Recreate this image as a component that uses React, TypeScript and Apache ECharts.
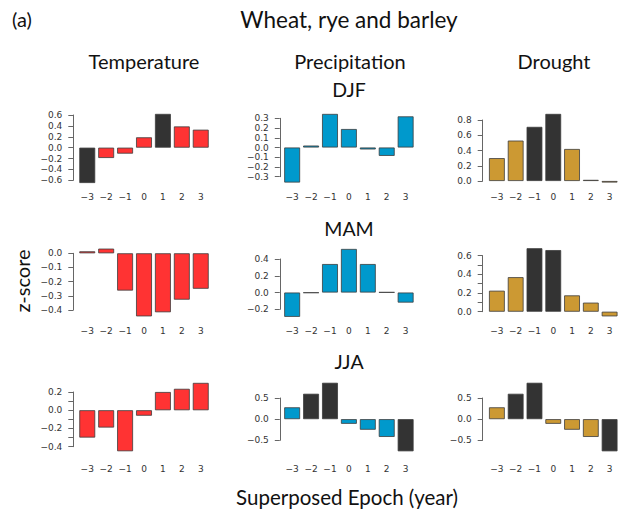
import React, { useEffect, useRef } from "react";
import * as echarts from "echarts";

// Superposed epoch lags (years)
const lags = ["\u22123", "\u22122", "\u22121", "0", "1", "2", "3"];

// z-score values
const tempDJF = [-0.65, -0.19, -0.11, 0.19, 0.62, 0.39, 0.33];
const precDJF = [-0.36, 0.02, 0.345, 0.19, -0.02, -0.086, 0.32];
const drouDJF = [0.3, 0.53, 0.71, 0.88, 0.42, 0.015, -0.02];

const tempMAM = [0.014, 0.033, -0.263, -0.445, -0.416, -0.327, -0.25];
const precMAM = [-0.29, -0.004, 0.34, 0.52, 0.34, 0.004, -0.12];
const drouMAM = [0.225, 0.37, 0.68, 0.66, 0.175, 0.097, -0.05];

const tempJJA = [-0.3, -0.19, -0.45, -0.06, 0.2, 0.235, 0.3];
const precJJA = [0.28, 0.6, 0.86, -0.11, -0.25, -0.42, -0.76];
const drouJJA = [0.28, 0.6, 0.86, -0.11, -0.25, -0.42, -0.76];

// significant lags (drawn dark)
const sigTempDJF = [true, false, false, false, true, false, false];
const sigPrecDJF = [false, false, false, false, false, false, false];
const sigDrouDJF = [false, false, true, true, false, false, false];
const sigTempMAM = [false, false, false, false, false, false, false];
const sigPrecMAM = [false, false, false, false, false, false, false];
const sigDrouMAM = [false, false, true, true, false, false, false];
const sigTempJJA = [false, false, false, false, false, false, false];
const sigPrecJJA = [false, true, true, false, false, false, true];
const sigDrouJJA = [false, true, true, false, false, false, true];

// y-axis tick ranges: [min, max, tickStep, labelEvery]
const tickTempDJF = [-0.6, 0.6, 0.2, 1];
const tickPrecDJF = [-0.3, 0.3, 0.1, 1];
const tickDrouDJF = [0, 0.8, 0.2, 1];
const tickTempMAM = [-0.4, 0, 0.1, 1];
const tickPrecMAM = [-0.2, 0.4, 0.2, 1];
const tickDrouMAM = [0, 0.6, 0.1, 2];
const tickTempJJA = [-0.4, 0.2, 0.1, 2];
const tickPrecJJA = [-0.5, 0.5, 0.5, 1];
const tickDrouJJA = [-0.5, 0.5, 0.5, 1];

const columnTitles = ["Temperature", "Precipitation", "Drought"];
const seasonTitles = ["DJF", "MAM", "JJA"];

const RED = "#FF3333";
const BLUE = "#0099CC";
const GOLD = "#CC9933";
const DARK = "#333333";

export default function App() {
  const ref = useRef<HTMLDivElement>(null);

  useEffect(() => {
    if (!ref.current) return;
    const chart = echarts.init(ref.current, null, { renderer: "svg" });

    const panels = [
      { row: 0, col: 0, vals: tempDJF, sig: sigTempDJF, tick: tickTempDJF, color: RED, top: 115, bottom: 180.3 },
      { row: 0, col: 1, vals: precDJF, sig: sigPrecDJF, tick: tickPrecDJF, color: BLUE, top: 118.3, bottom: 176.7 },
      { row: 0, col: 2, vals: drouDJF, sig: sigDrouDJF, tick: tickDrouDJF, color: GOLD, top: 120, bottom: 181 },
      { row: 1, col: 0, vals: tempMAM, sig: sigTempMAM, tick: tickTempMAM, color: RED, top: 253.3, bottom: 310 },
      { row: 1, col: 1, vals: precMAM, sig: sigPrecMAM, tick: tickPrecMAM, color: BLUE, top: 259, bottom: 309.3 },
      { row: 1, col: 2, vals: drouMAM, sig: sigDrouMAM, tick: tickDrouMAM, color: GOLD, top: 255.7, bottom: 311.7 },
      { row: 2, col: 0, vals: tempJJA, sig: sigTempJJA, tick: tickTempJJA, color: RED, top: 392, bottom: 446.7 },
      { row: 2, col: 1, vals: precJJA, sig: sigPrecJJA, tick: tickPrecJJA, color: BLUE, top: 398, bottom: 440.3 },
      { row: 2, col: 2, vals: drouJJA, sig: sigDrouJJA, tick: tickDrouJJA, color: GOLD, top: 398, bottom: 440.3 },
    ];

    const colLeft = [77.8, 282.7, 487.5];
    const colAxisOffset = [4.5, 2.9, 4.8];
    const bandWidth = 132.4;
    const rowLabelY = [197, 331, 469];

    const fmtNum = (v: number) => {
      const s = (Math.round(v * 10) / 10).toFixed(1);
      return s.startsWith("-") ? "\u2212" + s.slice(1) : s;
    };

    const grid: any[] = [];
    const xAxis: any[] = [];
    const yAxis: any[] = [];
    const series: any[] = [];

    panels.forEach((p, i) => {
      const [mn, mx, step, every] = p.tick;
      grid.push({
        left: colLeft[p.col],
        width: bandWidth,
        top: p.top,
        height: p.bottom - p.top,
        containLabel: false,
      });
      xAxis.push({
        type: "category",
        gridIndex: i,
        data: lags,
        position: "bottom",
        axisLine: { show: false, onZero: false },
        axisTick: { show: false },
        axisLabel: {
          margin: rowLabelY[p.row] - p.bottom - 5,
          fontSize: 9,
          fontFamily: "DejaVu Sans",
          color: "#333",
          interval: 0,
        },
      });
      yAxis.push({
        type: "value",
        gridIndex: i,
        min: mn,
        max: mx,
        interval: step,
        offset: colAxisOffset[p.col],
        splitLine: { show: false },
        axisLine: { show: true, lineStyle: { color: "#666", width: 1 } },
        axisTick: { show: true, length: 5, lineStyle: { color: "#666", width: 1 } },
        axisLabel: {
          margin: 11,
          fontSize: 9,
          fontFamily: "DejaVu Sans",
          color: "#333",
          showMinLabel: true,
          showMaxLabel: true,
          formatter: (v: number) => {
            const k = Math.round((v - mn) / step);
            return k % every === 0 ? fmtNum(v) : "";
          },
        },
      });
      series.push({
        type: "bar",
        xAxisIndex: i,
        yAxisIndex: i,
        clip: false,
        barCategoryGap: "16%",
        data: p.vals.map((v, j) => ({
          value: v,
          itemStyle: {
            color: p.sig[j] ? DARK : p.color,
            borderColor: "#3c3c3c",
            borderWidth: 0.8,
          },
        })),
      });
    });

    const bigFont = "Lato";
    const txt = (text: string, x: number, y: number, size: number, extra: any = {}) => ({
      type: "text",
      x,
      y,
      ...extra,
      style: {
        text,
        font: `${size}px ${bigFont}`,
        fill: "#111",
        align: "center",
        verticalAlign: "middle",
        textAlign: "center",
        textVerticalAlign: "middle",
      },
    });

    const graphic: any[] = [
      txt("(a)", 22, 19, 20),
      txt("Wheat, rye and barley", 349, 19, 22.5),
      txt(columnTitles[0], 144, 61, 20),
      txt(columnTitles[1], 350, 61, 20),
      txt(columnTitles[2], 554, 61, 20),
      txt(seasonTitles[0], 349, 89, 19.5),
      txt(seasonTitles[1], 349, 228, 19.5),
      txt(seasonTitles[2], 349, 361, 19.5),
      txt("z-score", 22, 281, 20, { rotation: Math.PI / 2 }),
      txt("Superposed Epoch (year)", 347, 497, 20.5),
    ];

    chart.setOption({
      animation: false,
      backgroundColor: "#ffffff",
      grid,
      xAxis,
      yAxis,
      series,
      graphic,
    });

    return () => chart.dispose();
  }, []);

  return (
    <div
      ref={ref}
      style={{ position: "fixed", left: 0, top: 0, width: 619, height: 518 }}
    />
  );
}
